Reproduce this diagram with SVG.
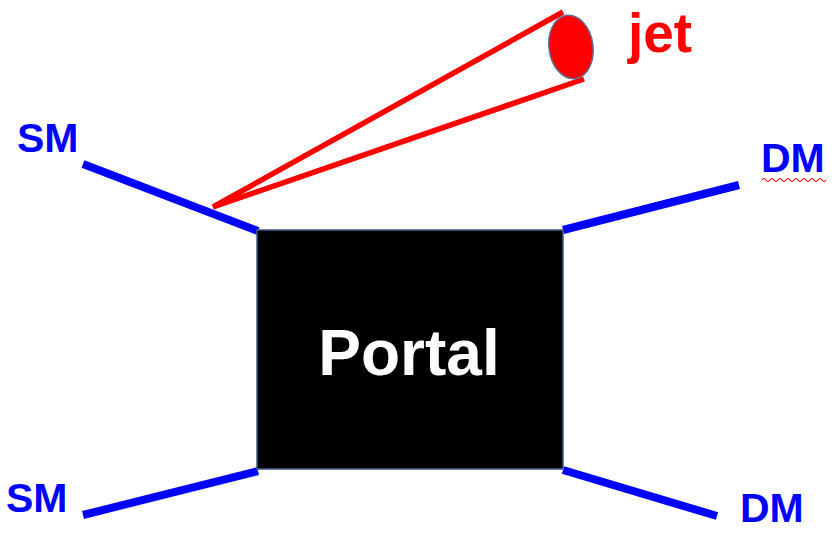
<svg xmlns="http://www.w3.org/2000/svg" width="836" height="534" viewBox="0 0 836 534">
  <style>
    .leg { stroke: #0000ff; stroke-width: 8; fill: none; stroke-linecap: butt; }
    .jetline { stroke: #ff0000; stroke-width: 5.5; fill: none; }
    .lbl { font-family: "Liberation Sans", Arial, sans-serif; font-weight: bold; font-size: 41px; fill: #0000ff; }
    .squiggle { stroke: #ff0000; stroke-width: 1.2; fill: none; }
  </style>
  <rect width="836" height="534" fill="#ffffff"/>

  <!-- external legs and jet cone -->
  <g id="connectors">
    <line class="leg" x1="83" y1="164" x2="258" y2="231"/>
    <line class="leg" x1="83" y1="515" x2="258" y2="471"/>
    <line class="leg" x1="563" y1="230" x2="739" y2="185"/>
    <line class="leg" x1="563" y1="470" x2="717" y2="516"/>
    <line class="jetline" x1="213" y1="207" x2="563" y2="12"/>
    <line class="jetline" x1="213" y1="207" x2="584" y2="79"/>
  </g>

  <g id="jet">
    <ellipse cx="571" cy="47" rx="22" ry="32" transform="rotate(-8 571 47)" fill="#ff0000" stroke="#5a6e96" stroke-width="1.5"/>
    <text x="628" y="52" font-family="Liberation Sans, Arial, sans-serif" font-weight="bold" font-size="55" fill="#ff0000">jet</text>
  </g>

  <g id="portal">
    <rect x="257" y="230" width="306" height="239" fill="#000000" stroke="#3c5a8a" stroke-width="1.5"/>
    <text x="409" y="375" text-anchor="middle" font-family="Liberation Sans, Arial, sans-serif" font-weight="bold" font-size="64" fill="#ffffff">Portal</text>
  </g>

  <g id="sm-top">
    <text class="lbl" x="17" y="152">SM</text>
  </g>
  <g id="sm-bottom">
    <text class="lbl" x="6" y="512">SM</text>
  </g>
  <g id="dm-top">
    <text class="lbl" x="761" y="172">DM</text>
    <path class="squiggle" d="M762 180 q2 -3 4 0 t4 0 t4 0 t4 0 t4 0 t4 0 t4 0 t4 0 t4 0 t4 0 t4 0 t4 0 t4 0 t4 0 t4 0 t4 0"/>
  </g>
  <g id="dm-bottom">
    <text class="lbl" x="740" y="522">DM</text>
  </g>
</svg>
